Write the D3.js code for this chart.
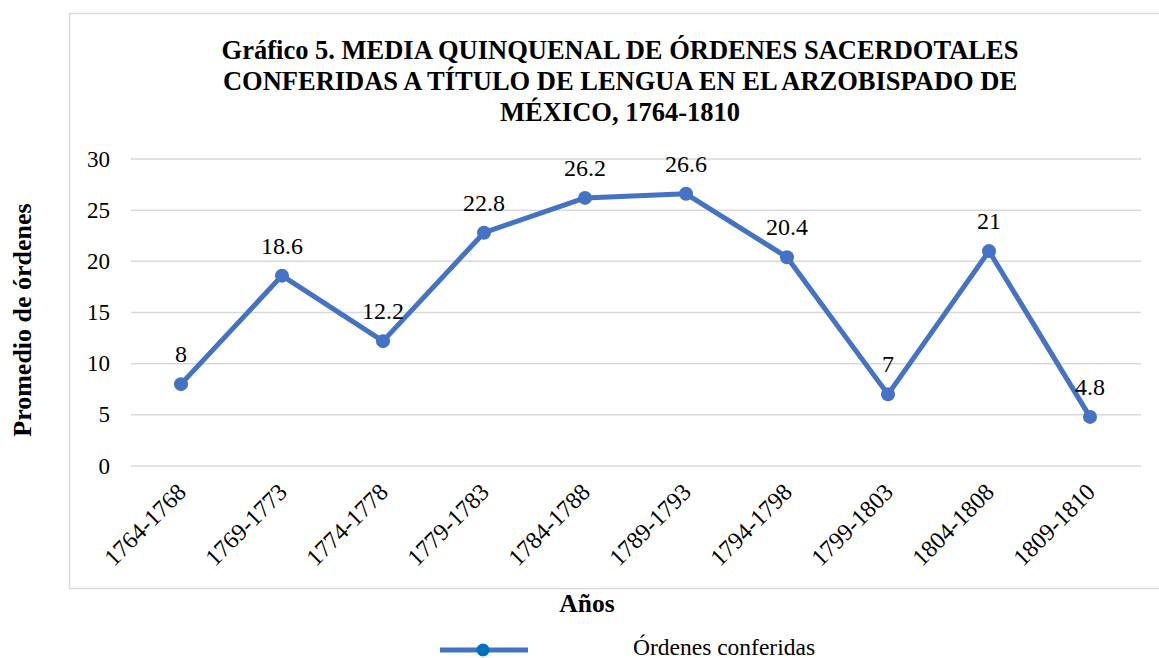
<!DOCTYPE html>
<html><head><meta charset="utf-8">
<script src="https://cdn.jsdelivr.net/npm/d3@7"></script>
<style>body{margin:0;background:#fff;} svg{display:block;font-family:"Liberation Serif","Times New Roman",serif;}</style>
</head><body>
<svg id="c" width="1159" height="658"></svg>
<script>
const categories = ["1764-1768","1769-1773","1774-1778","1779-1783","1784-1788","1789-1793","1794-1798","1799-1803","1804-1808","1809-1810"];
const values = [8,18.6,12.2,22.8,26.2,26.6,20.4,7,21,4.8];
const yTicks = [0,5,10,15,20,25,30];
const titleLines = ["Gráfico 5. MEDIA QUINQUENAL DE ÓRDENES SACERDOTALES","CONFERIDAS A TÍTULO DE LENGUA EN EL ARZOBISPADO DE","MÉXICO, 1764-1810"];
const seriesName = "Órdenes conferidas";

const svg = d3.select("#c");
// outer border
svg.append("rect").attr("x",69.5).attr("y",13.5).attr("width",1100).attr("height",575)
  .attr("fill","none").attr("stroke","#d9d9d9").attr("stroke-width",1.5);

const x = d3.scalePoint().domain(categories).range([181,1090]);
const y = d3.scaleLinear().domain([0,30]).range([466,159]);

// gridlines
svg.append("g").selectAll("line").data(yTicks).join("line")
  .attr("x1",131).attr("x2",1141).attr("y1",d=>y(d)).attr("y2",d=>y(d))
  .attr("stroke","#d9d9d9").attr("stroke-width",1.5);

// y tick labels
svg.append("g").selectAll("text").data(yTicks).join("text")
  .attr("x",110).attr("y",d=>y(d)).attr("dy","0.33em").attr("text-anchor","end")
  .attr("font-size",23).attr("fill","#000").text(d=>d);

// x tick labels
svg.append("g").selectAll("text").data(categories).join("text")
  .attr("transform",d=>`translate(${x(d)+1},${488}) rotate(-45)`)
  .attr("text-anchor","end").attr("dy","0.33em")
  .attr("font-size",24).attr("fill","#000").text(d=>d);

// line
const line = d3.line().x((d,i)=>x(categories[i])).y(d=>y(d));
svg.append("path").datum(values).attr("d",line).attr("fill","none")
  .attr("stroke","#4472C4").attr("stroke-width",5).attr("stroke-linejoin","round");
svg.append("g").selectAll("circle").data(values).join("circle")
  .attr("cx",(d,i)=>x(categories[i])).attr("cy",d=>y(d)).attr("r",7).attr("fill","#4472C4");

// data labels
svg.append("g").selectAll("text").data(values).join("text")
  .attr("x",(d,i)=>x(categories[i])).attr("y",d=>y(d)-22).attr("text-anchor","middle")
  .attr("font-size",24).attr("fill","#000").text(d=>d);

// title
svg.append("g").selectAll("text").data(titleLines).join("text")
  .attr("x",620).attr("y",(d,i)=>59+i*31).attr("text-anchor","middle")
  .attr("font-size",26.5).attr("font-weight","bold").attr("fill","#000").text(d=>d);

// axis titles
svg.append("text").attr("x",587).attr("y",612).attr("text-anchor","middle")
  .attr("font-size",25.5).attr("font-weight","bold").text("Años");
svg.append("text").attr("transform","translate(31,320) rotate(-90)").attr("text-anchor","middle")
  .attr("font-size",26).attr("font-weight","bold").text("Promedio de órdenes");

// legend
svg.append("line").attr("x1",440).attr("x2",528).attr("y1",650).attr("y2",650)
  .attr("stroke","#4472C4").attr("stroke-width",5);
svg.append("circle").attr("cx",483).attr("cy",650).attr("r",6.5).attr("fill","#0070C0");
svg.append("text").attr("x",633).attr("y",655).attr("font-size",23.5).text(seriesName);
</script>
</body></html>
